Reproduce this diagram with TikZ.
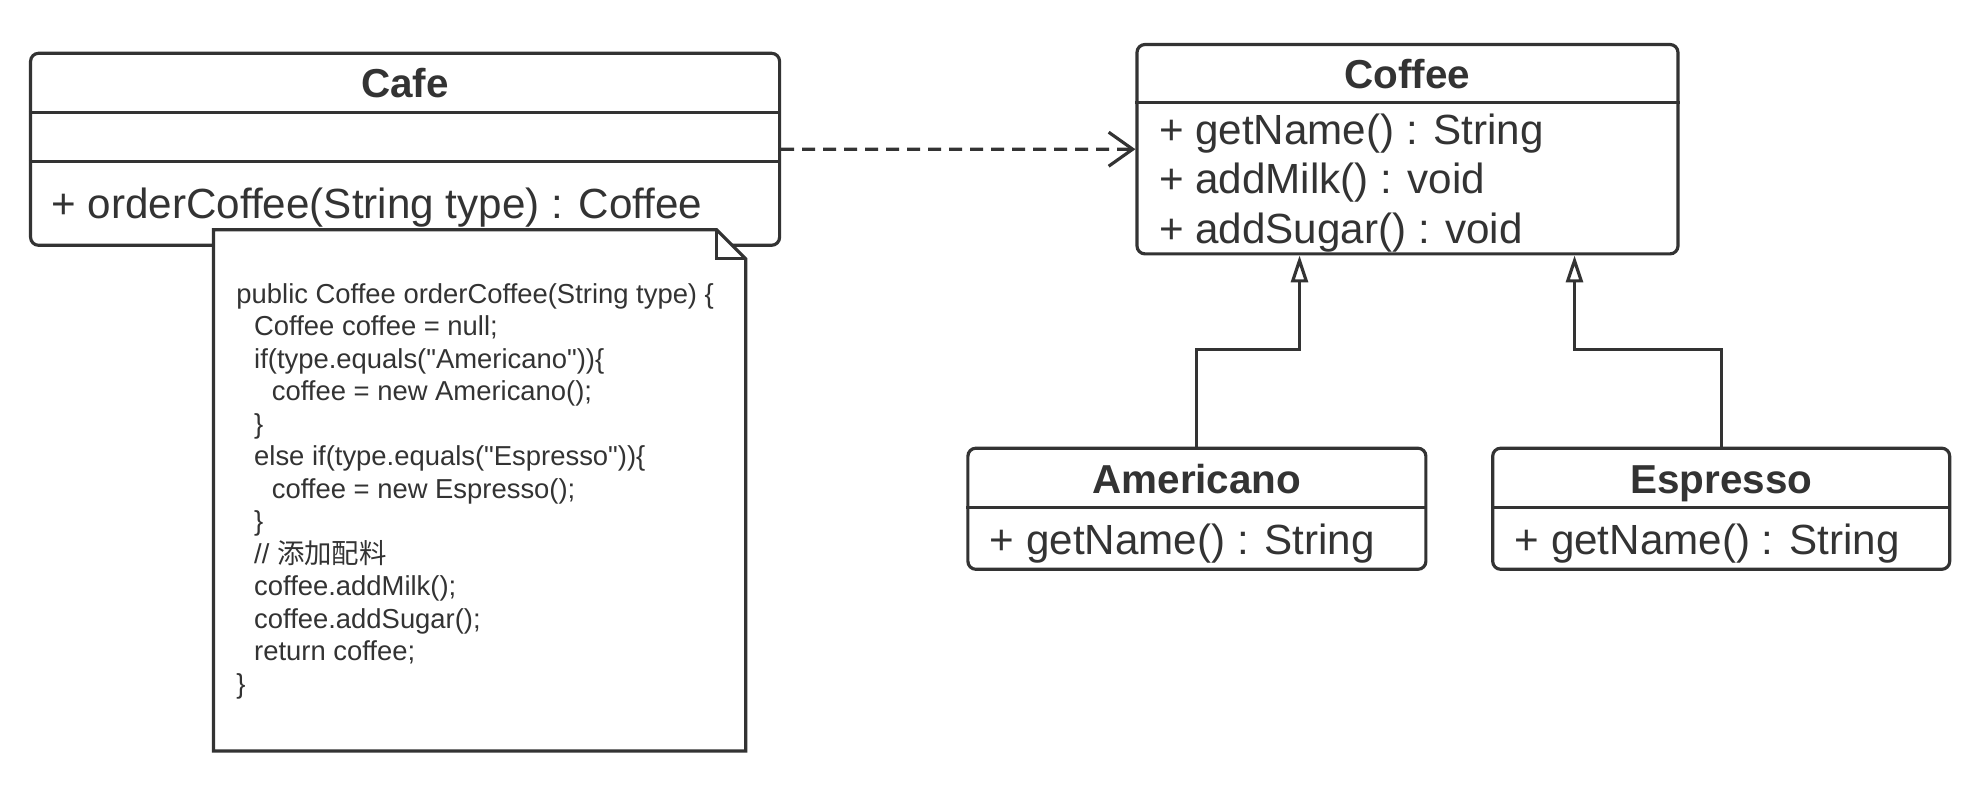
\documentclass[tikz,border=0pt]{standalone}
\usepackage{fontspec}
\setmainfont{Liberation Sans}
\newfontfamily\cjk{Noto Sans CJK SC}
\usetikzlibrary{arrows.meta,positioning,calc}
\definecolor{umlgray}{HTML}{333333}
\newcommand\ind{\hspace*{0.177cm}}
\tikzset{
  classbox/.style={draw,fill=white,rounded corners=0.08cm,anchor=north west,inner sep=0pt},
  ctitle/.style={font=\fontsize{11.5}{14}\selectfont\bfseries,inner sep=0pt,text height=0.72em,text depth=0pt},
  member/.style={font=\fontsize{12}{14}\selectfont,anchor=west,inner sep=0pt},
  dep/.style={dash pattern=on 0.13cm off 0.08cm,-{Straight Barb[length=0.24cm,width=0.34cm]}},
  gen/.style={-{Triangle[open,length=0.27cm,width=0.17cm]}}
}
\begin{document}
\begin{tikzpicture}[color=umlgray,line width=0.9pt]
\useasboundingbox (0,0) rectangle (19.78,-7.90);

\node[classbox,minimum width=7.49cm,minimum height=1.92cm] (cafe) at (0.29,-0.517) {};
\draw ([yshift=-0.606cm]cafe.north west) -- ([yshift=-0.606cm]cafe.north east);
\draw ([yshift=-1.098cm]cafe.north west) -- ([yshift=-1.098cm]cafe.north east);
\node[ctitle] (cafe-name) at ([yshift=-0.33cm]cafe.north) {Cafe};
\node[member] (cafe-order) at ([xshift=0.21cm,yshift=-1.56cm]cafe.north west) {+ orderCoffee(String type) : Coffee};

\node[classbox,minimum width=5.41cm,minimum height=2.094cm] (coffee) at (11.354,-0.429) {};
\draw ([yshift=-0.593cm]coffee.north west) -- ([yshift=-0.593cm]coffee.north east);
\node[ctitle] (coffee-name) at ([yshift=-0.33cm]coffee.north) {Coffee};
\node[member] (coffee-get) at ([xshift=0.22cm,yshift=-0.903cm]coffee.north west) {+ getName() : String};
\node[member] (coffee-milk) at ([xshift=0.22cm,yshift=-1.395cm]coffee.north west) {+ addMilk() : void};
\node[member] (coffee-sugar) at ([xshift=0.22cm,yshift=-1.899cm]coffee.north west) {+ addSugar() : void};

\node[classbox,minimum width=4.58cm,minimum height=1.211cm] (americano) at (9.663,-4.466) {};
\draw ([yshift=-0.605cm]americano.north west) -- ([yshift=-0.605cm]americano.north east);
\node[ctitle] (americano-name) at ([yshift=-0.34cm]americano.north) {Americano};
\node[member] (americano-get) at ([xshift=0.22cm,yshift=-0.966cm]americano.north west) {+ getName() : String};

\node[classbox,minimum width=4.57cm,minimum height=1.211cm] (espresso) at (14.911,-4.466) {};
\draw ([yshift=-0.605cm]espresso.north west) -- ([yshift=-0.605cm]espresso.north east);
\node[ctitle] (espresso-name) at ([yshift=-0.34cm]espresso.north) {Espresso};
\node[member] (espresso-get) at ([xshift=0.22cm,yshift=-0.966cm]espresso.north west) {+ getName() : String};

\draw[dep] (cafe) -- (coffee);
\draw[gen] (americano.north) -- ++(0,0.972) -| ([xshift=-1.08cm]coffee.south);
\draw[gen] (espresso.north) -- ++(0,0.972) -| ([xshift=1.67cm]coffee.south);

\node[minimum width=5.29cm,minimum height=5.18cm,anchor=north west,inner sep=0pt] (note) at (2.135,-2.298) {};
\draw[fill=white] (note.north west) -- ([xshift=-0.29cm]note.north east) -- ([yshift=-0.29cm]note.north east)
  -- (note.south east) -- (note.south west) -- cycle;
\draw ([xshift=-0.29cm]note.north east) -- ([xshift=-0.29cm,yshift=-0.29cm]note.north east) -- ([yshift=-0.29cm]note.north east);
\node[font=\fontsize{7.8}{9.24}\selectfont,align=left,anchor=base west,inner sep=0pt] (code) at ([xshift=0.214cm,yshift=-4.634cm]note.north west) {%
public Coffee orderCoffee(String type) \{\\
\ind Coffee coffee = null;\\
\ind if(type.equals(\textquotedbl Americano\textquotedbl))\{\\
\ind\ind coffee = new Americano();\\
\ind \}\\
\ind else if(type.equals(\textquotedbl Espresso\textquotedbl))\{\\
\ind\ind coffee = new Espresso();\\
\ind \}\\
\ind // {\cjk 添加配料}\\
\ind coffee.addMilk();\\
\ind coffee.addSugar();\\
\ind return coffee;\\
\}};
\end{tikzpicture}
\end{document}
